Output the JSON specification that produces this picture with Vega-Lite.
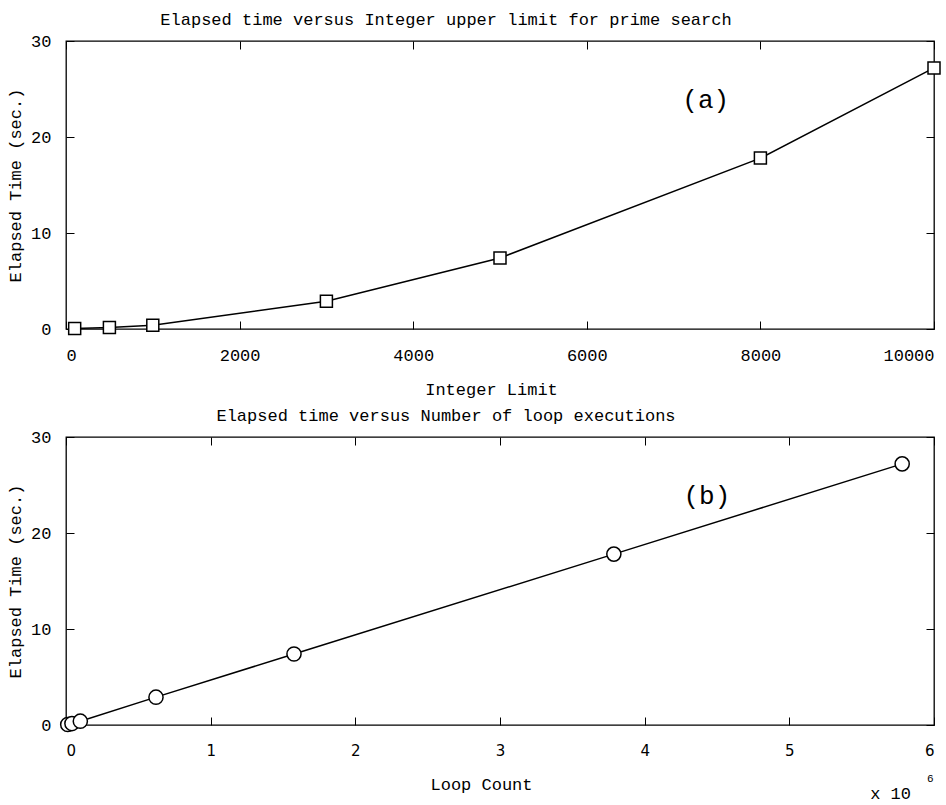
{
  "$schema": "https://vega.github.io/schema/vega-lite/v6.json",
  "padding": {"left": 5, "top": 10, "right": 4, "bottom": 0},
  "background": "white",
  "datasets": {
    "runs": [
      {"limit": 100, "loops": 12000, "time": 0.05},
      {"limit": 500, "loops": 41000, "time": 0.15},
      {"limit": 1000, "loops": 99000, "time": 0.4},
      {"limit": 3000, "loops": 622000, "time": 2.9},
      {"limit": 5000, "loops": 1576000, "time": 7.4},
      {"limit": 8000, "loops": 3787000, "time": 17.8},
      {"limit": 10000, "loops": 5780000, "time": 27.2}
    ],
    "notesA": [
      {"label": "(a)", "x": 7370, "y": 23.9}
    ],
    "notesB": [
      {"label": "(b)", "x": 4430000, "y": 23.85, "size": 26},
      {"label": "x 10", "x": 5700000, "y": -7.2, "size": 17},
      {"label": "6", "x": 5975000, "y": -5.6, "size": 11}
    ]
  },
  "config": {
    "view": {"stroke": "black", "strokeWidth": 1.3},
    "font": "Liberation Mono",
    "axis": {
      "domain": false,
      "grid": false,
      "zindex": 1,
      "tickColor": "black",
      "tickSize": -8,
      "tickWidth": 1,
      "labelFont": "Liberation Mono",
      "labelFontSize": 17,
      "labelColor": "black",
      "titleFont": "Liberation Mono",
      "titleFontSize": 17,
      "titleFontWeight": "normal",
      "titleColor": "black"
    },
    "title": {"font": "Liberation Mono", "fontSize": 17, "fontWeight": "normal", "color": "black"}
  },
  "spacing": 8,
  "vconcat": [
    {
      "width": 868,
      "height": 288,
      "title": {"text": "Elapsed time versus Integer upper limit for prime search", "dx": -54, "offset": 3, "anchor": "middle"},
      "layer": [
        {
          "data": {"name": "runs"},
          "mark": {"type": "line", "color": "black", "strokeWidth": 1.5},
          "encoding": {
            "x": {"field": "limit", "type": "quantitative", "scale": {"domain": [0, 10000], "nice": false, "zero": false},
              "axis": {"orient": "bottom", "values": [0, 2000, 4000, 6000, 8000, 10000], "labelPadding": 26, "title": "Integer Limit", "titlePadding": 18, "titleX": 425, "format": "d",
                "encode": {"labels": {"update": {"dx": {"signal": "datum.value == 10000 ? -13 : 0"}}}}}},
            "y": {"field": "time", "type": "quantitative", "scale": {"domain": [0, 30], "nice": false},
              "axis": {"orient": "left", "values": [0, 10, 20, 30], "labelPadding": 23, "title": "Elapsed Time (sec.)", "titlePadding": 6}}
          }
        },
        {
          "data": {"name": "runs"},
          "mark": {"type": "point", "shape": "square", "filled": true, "fill": "white", "stroke": "black", "strokeWidth": 1.5, "opacity": 1, "size": 144},
          "encoding": {
            "x": {"field": "limit", "type": "quantitative",
              "axis": {"orient": "top", "values": [0, 2000, 4000, 6000, 8000, 10000], "labels": false, "title": null}},
            "y": {"field": "time", "type": "quantitative",
              "axis": {"orient": "right", "values": [0, 10, 20, 30], "labels": false, "title": null}}
          }
        },
        {
          "data": {"name": "notesA"},
          "mark": {"type": "text", "fontSize": 26, "font": "Liberation Mono", "color": "black", "align": "center", "baseline": "middle"},
          "encoding": {
            "x": {"field": "x", "type": "quantitative", "axis": null},
            "y": {"field": "y", "type": "quantitative", "axis": null},
            "text": {"field": "label"}
          }
        }
      ],
      "resolve": {"axis": {"x": "independent", "y": "independent"}}
    },
    {
      "width": 868,
      "height": 288,
      "title": {"text": "Elapsed time versus Number of loop executions", "dx": -54, "offset": 3, "anchor": "middle"},
      "layer": [
        {
          "data": {"name": "runs"},
          "mark": {"type": "line", "color": "black", "strokeWidth": 1.5},
          "encoding": {
            "x": {"field": "loops", "type": "quantitative", "scale": {"domain": [0, 6000000], "nice": false, "zero": false},
              "axis": {"orient": "bottom", "values": [0, 1000000, 2000000, 3000000, 4000000, 5000000, 6000000], "labelExpr": "format(datum.value / 1000000, 'd')", "labelFont": "DejaVu Sans", "labelFontSize": 15, "labelPadding": 26, "title": "Loop Count", "titlePadding": 18, "titleX": 415}},
            "y": {"field": "time", "type": "quantitative", "scale": {"domain": [0, 30], "nice": false},
              "axis": {"orient": "left", "values": [0, 10, 20, 30], "labelPadding": 23, "title": "Elapsed Time (sec.)", "titlePadding": 6}}
          }
        },
        {
          "data": {"name": "runs"},
          "mark": {"type": "point", "shape": "circle", "filled": true, "fill": "white", "stroke": "black", "strokeWidth": 1.5, "opacity": 1, "size": 200},
          "encoding": {
            "x": {"field": "loops", "type": "quantitative",
              "axis": {"orient": "top", "values": [0, 1000000, 2000000, 3000000, 4000000, 5000000, 6000000], "labels": false, "title": null}},
            "y": {"field": "time", "type": "quantitative",
              "axis": {"orient": "right", "values": [0, 10, 20, 30], "labels": false, "title": null}}
          }
        },
        {
          "data": {"name": "notesB"},
          "mark": {"type": "text", "font": "Liberation Mono", "color": "black", "align": "center", "baseline": "middle"},
          "encoding": {
            "x": {"field": "x", "type": "quantitative", "axis": null},
            "y": {"field": "y", "type": "quantitative", "axis": null},
            "text": {"field": "label"},
            "size": {"field": "size", "type": "quantitative", "scale": null, "legend": null}
          }
        }
      ],
      "resolve": {"axis": {"x": "independent", "y": "independent"}}
    }
  ]
}
